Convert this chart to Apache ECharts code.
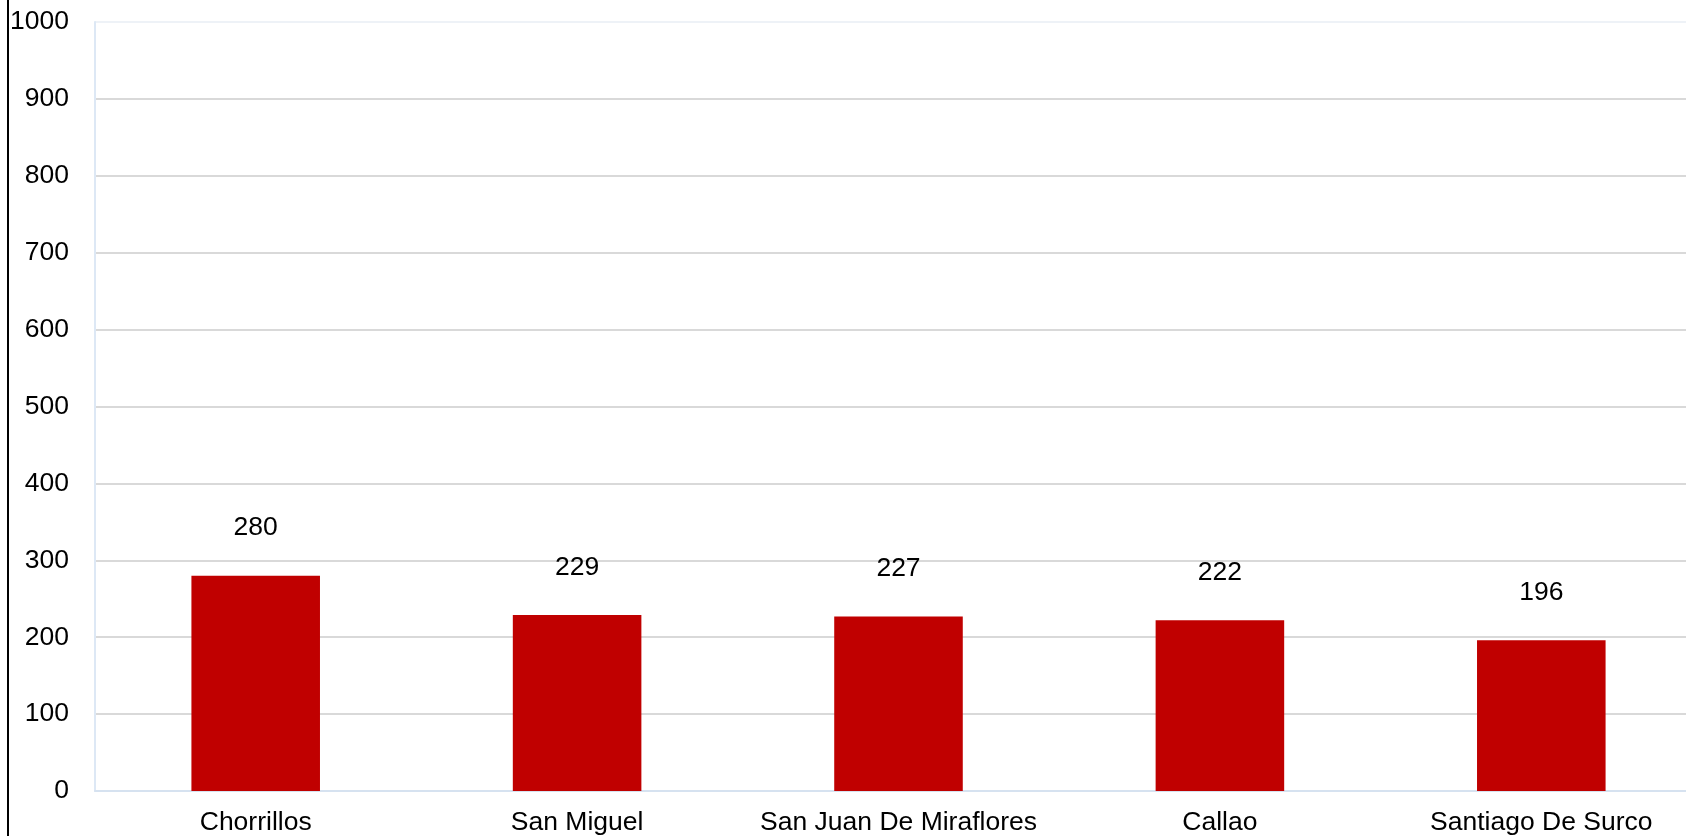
<!DOCTYPE html>
<html><head><meta charset="utf-8">
<script src="https://cdn.jsdelivr.net/npm/echarts@6/dist/echarts.min.js"></script>
<style>html,body{margin:0;padding:0;background:#fff}#c{width:1686px;height:836px}</style>
</head><body><div id="c"></div>
<script>
const categories = ["Chorrillos", "San Miguel", "San Juan De Miraflores", "Callao", "Santiago De Surco"];
const values = [280, 229, 227, 222, 196];
const yMin = 0, yMax = 1000, yStep = 100;

const chart = echarts.init(document.getElementById('c'), null, {renderer: 'canvas'});
const font = '"Liberation Sans", Arial, sans-serif';
const gridColors = [];
for (let v = yMin; v <= yMax; v += yStep) gridColors.push(v === yMax ? '#eef2f7' : '#d9d9d9');
chart.setOption({
  animation: false,
  backgroundColor: '#ffffff',
  grid: {left: 95, top: 22, width: 1607, bottom: 45, containLabel: false, outerBoundsMode: 'none'},
  graphic: [{type: 'rect', shape: {x: 7, y: 0, width: 2, height: 836}, style: {fill: '#000'}}],
  xAxis: {
    type: 'category', data: categories,
    axisLine: {show: true, lineStyle: {color: '#d6e2f0', width: 2}},
    axisTick: {show: false},
    axisLabel: {color: '#000', fontFamily: font, fontSize: 26.5, margin: 18, interval: 0}
  },
  yAxis: {
    type: 'value', min: yMin, max: yMax, interval: yStep,
    axisLine: {show: true, lineStyle: {color: '#dde8f5', width: 2}},
    axisTick: {show: false},
    splitLine: {show: true, lineStyle: {color: gridColors, width: 2}},
    axisLabel: {color: '#000', fontFamily: font, fontSize: 26.5, margin: 26, formatter: v => String(v)}
  },
  series: [{
    type: 'bar', data: values, barWidth: '40%',
    itemStyle: {color: '#c00000'},
    label: {show: true, position: 'top', distance: 34, color: '#000', fontFamily: font, fontSize: 26.5}
  }]
});
</script></body></html>
